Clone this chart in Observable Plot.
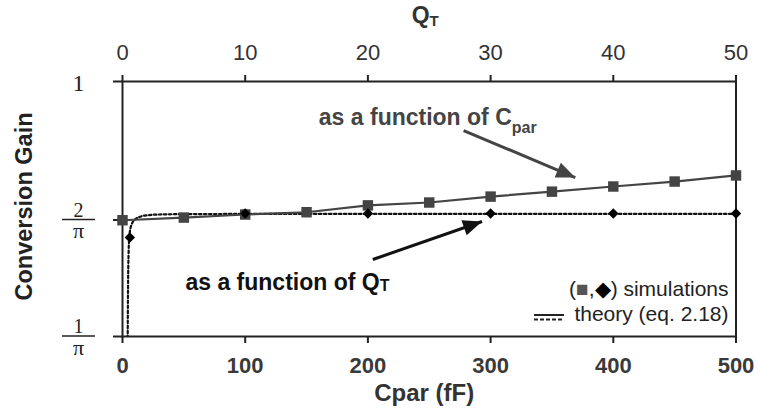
<!DOCTYPE html>
<html><head><meta charset="utf-8">
<script src="https://cdn.jsdelivr.net/npm/d3@7"></script>
<script src="https://cdn.jsdelivr.net/npm/@observablehq/plot@0.6"></script>
<style>body{margin:0;background:#fff;}</style>
</head><body><div id="chart"></div>
<script>
// ---- data ----
const cpar      = [0, 50, 100, 150, 200, 250, 300, 350, 400, 450, 500];
const gainCpar  = [0.636, 0.643, 0.651, 0.657, 0.675, 0.6825, 0.698, 0.711, 0.7245, 0.7375, 0.7535];
const qtSim     = [0.6, 10, 20, 30, 40, 50];
const gainQtSim = [0.589, 0.6535, 0.6535, 0.6535, 0.6535, 0.6535];
const qtTheory  = [0.42, 0.45, 0.5, 0.55, 0.6, 0.75, 1.0, 1.5, 2, 3, 5, 10, 20, 30, 40, 50];
const gainQtTheory = [0.30, 0.45, 0.55, 0.59, 0.605, 0.625, 0.637, 0.646, 0.649, 0.651, 0.652, 0.6525, 0.6525, 0.6525, 0.6525, 0.6525];
const xTicks = [0, 100, 200, 300, 400, 500];
const yTicks = [1 / Math.PI, 2 / Math.PI, 1];
const yPlain = [{v: 1, label: "1"}];
const yFrac  = [{v: 2 / Math.PI, num: "2", den: "π"}, {v: 1 / Math.PI, num: "1", den: "π"}];
const annotations = [
  {x: 160, y: 0.8846, main: "as a function of C", sub: "par", color: "#444", subSize: 16, subDy: 8},
  {x: 51.3, y: 0.4440, main: "as a function of Q", sub: "T", color: "#111", subSize: 16, subDy: 1}
];
const arrows = [
  {x1: 278, y1: 0.8714, x2: 369, y2: 0.7481, color: "#444"},
  {x1: 204, y1: 0.5287, x2: 293, y2: 0.6325, color: "#111"}
];
const legendLines = ["(■,◆) simulations", "theory (eq. 2.18)"];

// ---- layout ----
const W = 758, H = 416, mL = 122, mR = 22.5, mT = 81, mB = 80;
const SANS = "Liberation Sans, Arial, Helvetica, sans-serif";
const SERIF = "Liberation Serif, Times New Roman, serif";
const xOpts = {type: "linear", domain: [0, 500], range: [mL, W - mR]};
const yOpts = {type: "linear", domain: [1 / Math.PI, 2 / Math.PI, 1], range: [H - mB, 219.5, mT]};

const sq = cpar.map((c, i) => ({x: c, y: gainCpar[i]}));
const dm = qtSim.map((q, i) => ({x: q * 10, y: gainQtSim[i]}));
const th = qtTheory.map((q, i) => ({x: q * 10, y: gainQtTheory[i]}));

const sx = Plot.scale({x: xOpts}), sy = Plot.scale({y: yOpts});
const headSym = {draw(ctx) { ctx.moveTo(0, 0); ctx.lineTo(-19, -8); ctx.lineTo(-19, 8); ctx.closePath(); }};

const arrowMarks = arrows.flatMap(a => {
  const ang = Math.atan2(sy.apply(a.y2) - sy.apply(a.y1), sx.apply(a.x2) - sx.apply(a.x1)) * 180 / Math.PI;
  return [
    Plot.link([a], {x1: "x1", y1: "y1", x2: "x2", y2: "y2", stroke: a.color, strokeWidth: 3}),
    Plot.dot([a], {x: "x2", y: "y2", symbol: headSym, r: 5, fill: a.color, stroke: "none", rotate: ang})
  ];
});

const plot = Plot.plot({
  width: W, height: H,
  marginLeft: mL, marginRight: mR, marginTop: mT, marginBottom: mB,
  style: {fontFamily: SANS, background: "#fff", color: "#222"},
  x: xOpts, y: yOpts,
  marks: [
    Plot.frame({stroke: "#222", strokeWidth: 2}),
    Plot.axisX({anchor: "bottom", ticks: xTicks, tickSize: 7, tickPadding: 14, tickFormat: d => String(d),
      fontSize: 22, fontWeight: "bold", color: "#3a3a3a", stroke: "#222", strokeWidth: 2, label: null, fontFamily: SANS}),
    Plot.axisX({anchor: "top", ticks: xTicks, tickSize: 7, tickPadding: 15, tickFormat: d => String(d / 10),
      fontSize: 22, color: "#333", stroke: "#222", strokeWidth: 2, label: null, fontFamily: SANS}),
    Plot.axisY({anchor: "left", ticks: yTicks, tickSize: 9, tickFormat: () => "", stroke: "#222", strokeWidth: 2, label: null}),
    Plot.text(yPlain, {y: "v", text: "label", frameAnchor: "left", dx: -44, dy: 9, textAnchor: "middle", lineAnchor: "bottom",
      fontFamily: SERIF, fontSize: 24, fill: "#222"}),
    Plot.text(yFrac, {y: "v", text: "num", frameAnchor: "left", dx: -44, dy: -3.5, textAnchor: "middle", lineAnchor: "bottom",
      fontFamily: SERIF, fontSize: 20, fill: "#222"}),
    Plot.text(yFrac, {y: "v", text: "den", frameAnchor: "left", dx: -44, dy: 18, textAnchor: "middle", lineAnchor: "bottom",
      fontFamily: SERIF, fontSize: 22, fill: "#222"}),
    Plot.text(["Conversion Gain"], {frameAnchor: "left", dx: -98, dy: -2.5, rotate: -90, textAnchor: "middle", lineAnchor: "middle",
      fontSize: 23.5, fontWeight: "bold", fill: "#222"}),
    Plot.text(["Cpar (fF)"], {frameAnchor: "bottom", dy: 64, dx: -5, textAnchor: "middle", lineAnchor: "bottom",
      fontSize: 24, fontWeight: "bold", fill: "#333"}),
    Plot.text(["Q"], {frameAnchor: "top", dy: -59, dx: -4, textAnchor: "middle", lineAnchor: "bottom",
      fontSize: 23, fontWeight: "bold", fill: "#333"}),
    Plot.line(th, {x: "x", y: "y", stroke: "#111", strokeWidth: 2.2, strokeDasharray: "2.5,2.5", curve: "monotone-x", clip: true}),
    Plot.line(sq, {x: "x", y: "y", stroke: "#444", strokeWidth: 2.2}),
    Plot.dot(sq, {x: "x", y: "y", symbol: "square", r: 5.9, fill: "#444", stroke: "none"}),
    Plot.dot(dm, {x: "x", y: "y", symbol: "diamond2", r: 4.7, fill: "#000", stroke: "none"}),
    ...arrowMarks,
    ...annotations.map(a => Plot.text([a], {x: "x", y: "y", text: "main", textAnchor: "start", lineAnchor: "bottom",
      fontSize: 23, fontWeight: "bold", fill: a.color})),
    Plot.text([legendLines[0]], {frameAnchor: "bottom-right", dx: -7.5, dy: -41, textAnchor: "end", lineAnchor: "bottom",
      fontSize: 21, fill: "#222"}),
    Plot.text([legendLines[1]], {frameAnchor: "bottom-right", dx: -7.5, dy: -16, textAnchor: "end", lineAnchor: "bottom",
      fontSize: 21, fill: "#222"})
  ]
});
document.getElementById("chart").append(plot);

// ---- post-processing: subscripts, fraction bars, legend samples ----
const svg = d3.select(plot);
svg.selectAll("text").each(function () {
  const t = this.textContent;
  const a = annotations.find(a => a.main === t);
  if (a) {
    d3.select(this).append("tspan").attr("dy", a.subDy).attr("font-size", a.subSize).text(a.sub);
  } else if (t === "Q") {
    d3.select(this).append("tspan").attr("dy", 3).attr("font-size", 15).text("T");
  } else if (t === legendLines[0]) {
    const el = d3.select(this); el.text("");
    el.append("tspan").text("(");
    el.append("tspan").attr("fill", "#555").text("■");
    el.append("tspan").text(",");
    el.append("tspan").attr("fill", "#000").text("◆");
    el.append("tspan").text(") simulations");
  }
});
const ys = plot.scale("y");
const g = svg.append("g");
yFrac.forEach(d => {
  g.append("line").attr("x1", mL - 60).attr("x2", mL - 27).attr("y1", ys.apply(d.v)).attr("y2", ys.apply(d.v))
    .attr("stroke", "#222").attr("stroke-width", 1.6);
});
const fr = W - mR, fb = H - mB;
g.append("line").attr("x1", fr - 201.5).attr("x2", fr - 171.5).attr("y1", fb - 21).attr("y2", fb - 21)
  .attr("stroke", "#222").attr("stroke-width", 2);
g.append("line").attr("x1", fr - 201.5).attr("x2", fr - 171.5).attr("y1", fb - 16.5).attr("y2", fb - 16.5)
  .attr("stroke", "#222").attr("stroke-width", 2).attr("stroke-dasharray", "4,2");
</script></body></html>
